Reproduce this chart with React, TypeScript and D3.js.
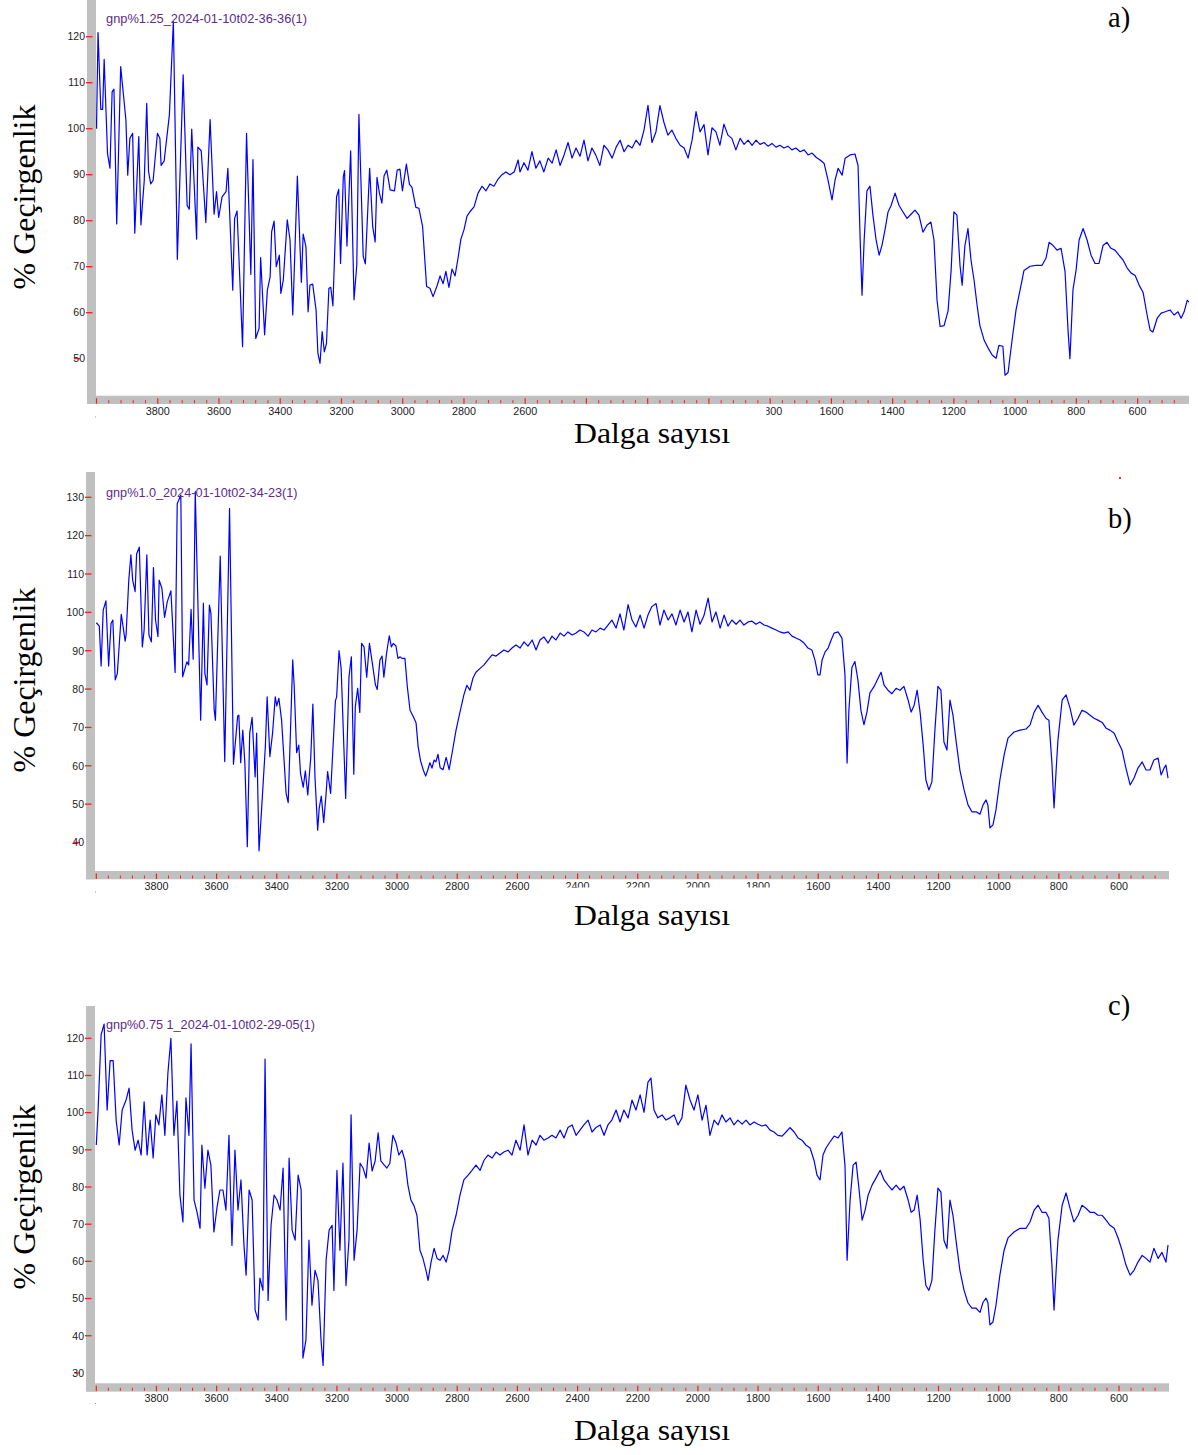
import React from "react";
import * as d3 from "d3";

// ---------- data (wavenumber cm-1, % transmittance) ----------
const aWave = [4000,3995,3986,3980,3975,3964,3956,3949,3943,3934,3921,3904,3898,3891,3882,3875,3862,3855,3844,3836,3830,3823,3815,3801,3793,3789,3779,3762,3749,3736,3717,3704,3697,3689,3673,3669,3658,3643,3629,3616,3608,3601,3590,3577,3571,3555,3549,3541,3523,3510,3496,3489,3480,3469,3464,3451,3442,3433,3428,3420,3413,3403,3398,3390,3377,3368,3359,3344,3331,3325,3316,3309,3303,3294,3283,3277,3270,3263,3256,3249,3241,3235,3228,3216,3209,3203,3194,3190,3182,3170,3159,3150,3143,3129,3122,3108,3098,3090,3084,3076,3068,3061,3052,3041,3027,3018,3009,3001,2988,2978,2970,2957,2947,2935,2922,2911,2901,2888,2878,2868,2859,2849,2839,2829,2819,2810,2800,2790,2780,2767,2754,2741,2728,2715,2702,2689,2676,2663,2650,2636,2623,2617,2604,2591,2578,2565,2552,2539,2525,2512,2499,2486,2473,2460,2447,2434,2421,2408,2395,2382,2369,2356,2343,2330,2316,2303,2290,2277,2264,2251,2238,2225,2212,2199,2186,2173,2160,2147,2134,2121,2108,2094,2081,2068,2055,2042,2029,2016,2003,1990,1977,1964,1951,1938,1925,1912,1898,1885,1872,1859,1846,1833,1820,1807,1794,1781,1768,1755,1742,1729,1716,1702,1689,1676,1663,1650,1637,1624,1611,1598,1588,1578,1565,1555,1539,1523,1513,1506,1500,1493,1484,1474,1464,1454,1444,1435,1425,1415,1405,1392,1379,1366,1353,1340,1327,1314,1301,1288,1275,1265,1255,1245,1232,1219,1209,1200,1190,1180,1173,1164,1154,1144,1134,1124,1115,1101,1088,1075,1062,1053,1040,1033,1023,1010,997,984,971,951,932,912,899,889,876,863,850,837,827,821,811,801,791,778,765,752,739,726,713,700,687,674,661,647,634,621,608,595,582,569,559,550,536,523,510,494,481,468,458,448,438,432];
const aTrans = [100,120.9,104.2,104.2,115.1,94.6,91.4,108,108.6,79.3,113.5,101.9,89.9,97.9,99,77.3,98.3,79.1,88.8,105.5,90.7,88,88.8,99,97.9,92,93,103,123.3,71.6,111.7,83.3,82.5,99.9,76,96,95.2,79.6,102,81.4,86.3,80.7,85.2,86.3,91.4,64.9,80.5,82.1,52.6,99,68.3,93.3,54.4,56.6,72,55.2,64.9,67.8,77.6,79.9,70,72.5,64.2,67.1,80.2,75.8,59.5,89.7,66.6,77.1,74.3,60.2,66,66.2,60.6,51.2,49,55.9,51.5,53.3,65.3,65.5,61.5,85.2,86.8,70.7,89.6,90.9,74.5,95.2,62.8,70.4,103.1,72.3,70.6,91.4,78.7,75.4,89.4,86,83.8,89.7,91,86.7,86.5,91,91.2,86.5,92.3,87.9,87.3,82.9,82.7,78.7,65.7,65.3,63.5,65.8,68,66.3,69,65.5,69.5,68,72,76,78,81,82,83,86,87.5,86.5,88,87.5,89,90,90.6,90,90.6,93.2,90.6,92.6,91,95,91.4,93,90.6,93.6,92.5,95.4,92,94.3,97,93.6,95.8,94,97.5,93,95.8,94.2,92,96.4,95.4,93.6,96,97.5,95,96.4,95.8,97.5,96.4,99.7,105.1,97,99.3,105,101.4,98.6,99.7,97.9,96.4,95.8,93.6,97.5,103.7,99.3,100.9,94.3,100.2,99.3,96.4,101,98.6,97.9,95.4,97.9,96.6,97.5,96.4,97.5,96.6,97,96.2,96.8,96,96.4,95.8,96.2,95.4,95.8,95,95.4,94.3,94.7,93.8,93.2,92.5,88.8,84.5,88.8,91.4,89.9,93.6,94.3,94.5,92,75.8,63.8,75.8,86.5,87.5,81,75.8,72.5,74.6,78,81.9,83.3,86,83.3,81.9,80.5,81.4,82.3,81.2,77.5,79,79.7,75.8,62.7,57,57.2,60.4,69.2,81.9,81.2,70.3,66,74.6,78.3,71.4,67,61.5,57.2,54,52.3,50.8,50.1,52.9,52.7,46.4,47,54,60.6,64.9,69.2,70.1,70.3,70.3,71.9,75.3,74.6,73.6,74,69,56,50,65,69.2,75.8,78.3,75.8,72.5,70.7,70.7,74.6,75.3,74,73.6,72.5,71.4,69.7,68.6,68.1,66,64.4,59.5,56.2,55.8,58.8,59.9,60.2,60.6,59.5,60.2,58.8,60.2,62.7,62.3];

const bWave = [4000,3993,3990,3984,3977,3968,3959,3951,3945,3937,3930,3917,3904,3901,3892,3885,3879,3871,3866,3857,3847,3841,3832,3825,3817,3810,3803,3795,3791,3782,3773,3764,3752,3738,3731,3719,3713,3699,3693,3685,3678,3671,3653,3644,3639,3632,3624,3619,3608,3604,3588,3573,3557,3544,3530,3526,3520,3513,3506,3498,3490,3482,3472,3467,3459,3448,3438,3432,3423,3414,3405,3400,3393,3384,3369,3362,3347,3342,3334,3327,3321,3312,3305,3297,3287,3280,3273,3264,3259,3252,3244,3236,3231,3221,3205,3201,3193,3186,3171,3160,3152,3144,3139,3131,3124,3118,3110,3101,3092,3083,3072,3066,3057,3050,3044,3035,3026,3019,3013,3004,2997,2990,2984,2974,2966,2957,2946,2937,2930,2922,2913,2905,2898,2891,2884,2877,2871,2864,2857,2847,2837,2827,2817,2804,2791,2778,2768,2758,2748,2738,2724,2711,2698,2684,2671,2658,2645,2631,2618,2605,2591,2578,2565,2551,2538,2525,2512,2498,2485,2472,2458,2445,2432,2418,2405,2392,2379,2365,2352,2339,2325,2312,2299,2286,2272,2259,2246,2232,2219,2206,2192,2179,2166,2153,2139,2126,2113,2099,2086,2073,2059,2046,2033,2020,2006,1993,1980,1966,1953,1940,1926,1913,1900,1887,1873,1860,1847,1833,1820,1807,1794,1780,1767,1754,1740,1727,1714,1700,1687,1674,1660,1647,1634,1621,1611,1601,1594,1587,1577,1567,1557,1547,1534,1521,1511,1504,1498,1488,1478,1468,1458,1448,1438,1428,1414,1401,1391,1381,1368,1355,1341,1328,1315,1301,1291,1281,1271,1261,1251,1242,1232,1222,1212,1202,1192,1182,1172,1162,1152,1142,1129,1115,1102,1089,1075,1062,1052,1042,1036,1029,1019,1009,996,982,969,949,929,909,896,882,869,856,843,833,823,816,809,803,789,776,763,750,736,723,710,696,683,670,656,643,630,616,603,590,577,563,550,537,523,510,497,484,470,460,450,444,437];
const bTrans = [97.3,96.7,96.4,86,100.6,103,86,97.1,98,82.4,84.1,99.5,92.5,94.1,108.4,115,108.4,105.4,115.2,117,91,95.4,115,94.1,92.3,111.7,98,93.7,108.4,106.3,98.7,102.8,105.6,84.3,128.3,130.6,83.2,87.1,86.3,100.8,87.8,131.5,71.9,102.4,84.1,81.1,101.9,99.8,74.5,71.9,114.7,61.1,127.1,60.4,73,73.2,60.8,69.3,60.6,38.9,68.5,72.6,57.1,68.5,37.8,51.9,65,78,62.4,68.5,78,75.6,77.6,71.9,52.8,50.4,87.6,80.6,63.4,65.4,58,54.4,58.7,52.4,62.2,76.1,57.1,43.2,48.9,52.1,45.2,52.8,58.5,52.8,77,77.9,90,85.4,51.5,83.2,88.4,57.8,75.4,80.2,73.9,91.9,91,83.1,91.9,87.1,81.1,79.9,87.6,88.6,83.1,89.3,93.9,91,91.9,91.3,88,88.4,88,88,80.6,74.5,72.8,71.2,65,61.3,58.9,57.3,58.9,60.8,59.4,61.5,61,63,59.5,59,62.2,59,63.4,69.3,74,78.5,81,79.7,82.8,84.4,85.4,86.3,87.6,88.9,88.6,89.4,90.2,89.7,90.7,91.5,90.7,92.3,91.2,92.8,90.2,92.8,93.6,92,93.8,92.8,94.6,93.8,94.9,94.1,94.6,95.4,94.9,93.8,95.4,94.9,95.9,95.4,96.7,98,95.9,99.6,95.4,102,98,96.2,99.3,95.9,99.3,101.5,102.3,96.7,100.6,98,99.6,96.7,100.6,97.5,100.1,94.9,100.6,96.9,99.1,103.7,97.5,100.1,95.9,99.3,96.4,98,96.9,98,96.7,97.5,97.7,96.9,97.5,96.7,96.4,95.9,95.4,94.9,94.6,94.9,93.8,93.3,92.8,92,90.7,90.2,87.6,83.7,83.7,87.6,89.7,90.7,92.8,94.6,94.9,93.3,83.7,60.7,74.5,85.6,87.2,82.4,74.5,70.7,74,79,80.7,82.8,84.4,81,79.7,78.8,80.2,79.7,80.7,77.1,74,75.8,79.7,73.8,65.4,56.3,53.7,55.8,69.3,80.7,79.7,66.2,64.1,77.1,73.2,66.7,58.9,53.7,49.8,48,48,47.4,49.8,51.1,49.8,43.8,44.6,48.5,56.3,62.8,67.2,68.8,69.3,69.6,70.6,74,75.8,74,72.4,71.9,60.7,49,58.9,66.7,77.1,78.5,75.1,70.6,72.4,74.5,74,73.2,72.4,71.9,71.3,69.8,69.3,68.5,66.2,64.1,59.4,55,56.8,59.4,61,58.9,58.9,61.5,62,57.6,59.4,60.2,56.8];

const cWave = [4000,3994,3984,3974,3964,3954,3944,3934,3924,3914,3901,3891,3881,3871,3861,3851,3841,3831,3821,3811,3802,3792,3782,3772,3762,3752,3742,3732,3722,3712,3702,3692,3685,3675,3665,3655,3649,3639,3629,3619,3609,3599,3589,3579,3569,3559,3549,3539,3529,3519,3509,3502,3492,3482,3472,3462,3456,3446,3439,3429,3419,3409,3399,3389,3379,3369,3359,3349,3339,3329,3319,3313,3303,3293,3283,3273,3263,3253,3246,3236,3226,3216,3210,3200,3190,3180,3170,3160,3153,3143,3133,3123,3113,3103,3093,3083,3073,3063,3054,3044,3034,3024,3014,3004,2994,2984,2974,2964,2954,2944,2934,2924,2914,2904,2897,2887,2877,2867,2857,2847,2837,2827,2817,2804,2791,2778,2764,2751,2738,2724,2711,2698,2684,2671,2658,2645,2631,2618,2605,2591,2578,2565,2551,2538,2525,2512,2498,2485,2472,2458,2445,2432,2418,2405,2392,2379,2365,2352,2339,2325,2312,2299,2286,2272,2259,2246,2232,2219,2206,2192,2179,2166,2156,2146,2133,2119,2106,2093,2079,2066,2053,2040,2026,2013,2000,1986,1973,1960,1946,1933,1920,1907,1893,1880,1867,1853,1840,1827,1813,1800,1787,1774,1760,1747,1734,1720,1707,1694,1680,1667,1654,1641,1627,1614,1604,1594,1584,1574,1561,1547,1534,1521,1511,1504,1494,1484,1474,1464,1454,1444,1434,1421,1408,1394,1381,1368,1355,1341,1328,1315,1301,1291,1281,1271,1261,1251,1242,1232,1222,1212,1202,1192,1182,1172,1162,1152,1142,1129,1115,1102,1089,1075,1062,1052,1042,1036,1029,1019,1009,996,982,969,949,929,909,896,882,869,856,843,833,823,816,809,803,789,776,763,750,736,723,710,696,683,670,656,643,630,616,603,590,577,563,550,537,523,510,497,484,470,457,444,437];
const cTrans = [91.3,100.7,121,123.8,100.7,114,114,98,91.3,100.7,103.4,106.6,95.3,89.9,92.6,88.6,102.9,88.6,98,87.8,99.4,96.7,104.8,93.9,110.6,120,93.9,103.1,77.8,70.6,104,93.9,118.5,76.5,73.2,68.9,91.3,79.7,89.9,85.9,67.9,74.3,79.2,79.2,73.8,93.9,64.3,89.9,73.8,81.9,64.3,56.3,79.2,76.5,46.9,44.2,55.5,52.2,114.4,49.5,69.7,77.8,76.5,73.8,85.1,44.2,87.8,68.4,65.7,83.2,79.2,34,38.9,65.7,48.2,57.6,54.9,38.9,32,60.3,68.4,69.7,52.2,84.5,63,86.4,53.5,65.7,99.4,60.3,68.4,86.4,85.1,82.4,91.8,84.3,87,94.6,87,86,85.1,86.4,93.9,92,88.6,89.9,87.2,80.5,76.5,75,72.4,63,60.8,57.6,54.9,59.8,63.5,60.8,60.3,61.6,59.8,63,68.4,72.4,77.8,81.9,83.2,84.5,85.9,84.5,87.2,88.6,87.8,89.4,88.6,89.4,89.9,88.6,92.6,89.9,96.7,88.6,92.6,91.3,93.9,92.6,93.2,93.9,93.2,95.3,93.2,96,96.7,93.9,95.3,96.7,98,94.8,96,96.7,93.9,96.7,98,100.7,97.5,100.7,98.6,103.4,100.7,104.8,100.1,108.2,109.3,100.7,98.6,99.4,98,98.6,99.4,96.7,98.6,107.4,103.4,100.7,104.8,98,102,93.9,98,96.7,99.4,97.5,98.6,96.7,98,96.9,98,96.7,97.5,96.9,96.4,96.7,95.3,94.8,93.9,93.7,94.8,96,94.8,93.2,92.6,91.3,90.5,87.2,83.2,81.9,88.6,90.5,92.1,93.7,93.2,94.8,85.9,60.3,76.5,85.9,86.7,79.2,71.1,73.8,77.8,80.5,82.4,84.5,81.9,80.5,79.2,80.5,79.2,80.2,76.5,73.2,73.8,77.8,71.1,60.3,53.5,52.2,54.9,68.4,79.7,78.6,65.7,63.5,76.5,72.4,65.7,57.6,52.2,48.8,47.4,47.4,46.3,49,50.1,49,42.9,43.7,48.2,56.3,63,66.3,67.9,68.9,68.9,70.6,73.8,75.1,73.2,73.2,71.6,59,46.9,57.6,65.7,75.1,78.4,74.3,70.6,72.4,75.1,74.3,73.2,73.2,72.4,72.4,71.1,69.7,68.9,66.3,63,59,56.3,57.6,59.8,61.6,60.8,59.8,63.5,60.8,62.4,59.8,64.4];

const yTicksA = [50, 60, 70, 80, 90, 100, 110, 120];
const yTicksB = [40, 50, 60, 70, 80, 90, 100, 110, 120, 130];
const yTicksC = [30, 40, 50, 60, 70, 80, 90, 100, 110, 120];
const xTickLabels = [3800, 3600, 3400, 3200, 3000, 2800, 2600, 2400, 2200, 2000, 1800, 1600, 1400, 1200, 1000, 800, 600];
const titles = ["gnp%1.25_2024-01-10t02-36-36(1)", "gnp%1.0_2024-01-10t02-34-23(1)", "gnp%0.75 1_2024-01-10t02-29-05(1)"];
const letters = ["a)", "b)", "c)"];
const yTitle = "% Geçirgenlik";
const xTitle = "Dalga sayısı";

// ---------- layout ----------
type Panel = {
  wave: number[]; trans: number[]; yTicks: number[]; title: string; letter: string;
  xr: [number, number]; yd: [number, number]; yr: [number, number];
  barL: number; barTop: number; bottomTop: number; barRight: number;
  labelBase: number; titleY: number; titleW: number; letterY: number; xTitleY: number; yTitleY: number;
  mask?: [number, number, number, number];
};

const panels: Panel[] = [
  { wave: aWave, trans: aTrans, yTicks: yTicksA, title: titles[0], letter: letters[0],
    xr: [96.5, 1137.6], yd: [50, 120], yr: [358.7, 36.7],
    barL: 87, barTop: 0, bottomTop: 395.7, barRight: 1189,
    labelBase: 415, titleY: 22.5, titleW: 201, letterY: 27, xTitleY: 443, yTitleY: 197,
    mask: [540, 405, 226.5, 14] },
  { wave: bWave, trans: bTrans, yTicks: yTicksB, title: titles[1], letter: letters[1],
    xr: [96.3, 1119], yd: [40, 130], yr: [842.5, 497.3],
    barL: 86, barTop: 472, bottomTop: 871, barRight: 1169,
    labelBase: 890, titleY: 496.5, titleW: 191.5, letterY: 528, xTitleY: 925, yTitleY: 680,
    mask: [540, 887.5, 250, 8] },
  { wave: cWave, trans: cTrans, yTicks: yTicksC, title: titles[2], letter: letters[2],
    xr: [96.3, 1119], yd: [30, 120], yr: [1372.9, 1038.3],
    barL: 86, barTop: 1006, bottomTop: 1383.3, barRight: 1169,
    labelBase: 1401.5, titleY: 1029, titleW: 209, letterY: 1015, xTitleY: 1440, yTitleY: 1197 },
];

const minorTicks = d3.range(4000, 479, -40);

function PanelView({ p, i }: { p: Panel; i: number }) {
  const x = d3.scaleLinear().domain([4000, 600]).range(p.xr);
  const y = d3.scaleLinear().domain(p.yd).range(p.yr);
  const pts = p.wave.map((w, k) => [w, p.trans[k]] as [number, number]);
  const line = d3.line<[number, number]>().x(d => x(d[0])).y(d => y(d[1]));
  const clipId = `clip${i}`;
  const barW = 9;
  const lowest = p.yTicks[0];
  return (
    <g>
      <defs>
        <clipPath id={clipId}>
          <rect x={p.barL + barW} y={p.barTop} width={p.barRight - p.barL - barW} height={p.bottomTop - p.barTop} />
        </clipPath>
      </defs>
      {/* gray frame */}
      <rect x={p.barL} y={p.barTop} width={barW} height={p.bottomTop + 8.3 - p.barTop} fill="#c0c0c0" />
      <rect x={p.barL} y={p.bottomTop} width={p.barRight - p.barL} height={8.3} fill="#c0c0c0" />
      {/* x ticks on bar */}
      {minorTicks.map(w => {
        const major = w % 200 === 0;
        return (
          <line key={w} x1={x(w)} x2={x(w)} y1={p.bottomTop + (major ? 2.5 : 4.5)} y2={p.bottomTop + (major ? 8 : 7.5)}
            stroke="#ff1a1a" strokeWidth={major ? 1.2 : 1} />
        );
      })}
      {/* x labels */}
      {xTickLabels.map(w => (
        <text key={w} x={x(w)} y={p.labelBase} textAnchor="middle" fontFamily="Liberation Sans, Arial, sans-serif"
          fontSize={10.8} fill="#222">{w}</text>
      ))}
      {p.mask && <rect x={p.mask[0]} y={p.mask[1]} width={p.mask[2]} height={p.mask[3]} fill="#fff" />}
      <rect x={95} y={p.labelBase + 1.5} width={1} height={1} fill="#999" />
      {/* y ticks */}
      {p.yTicks.map(v => (
        <g key={v}>
          {v === lowest ? (
            <line x1={74} x2={80} y1={y(v)} y2={y(v)} stroke="#ff1a1a" strokeWidth={1.2} />
          ) : (
            <line x1={p.barL - 1} x2={p.barL + 5.5} y1={y(v)} y2={y(v)} stroke="#ff1a1a" strokeWidth={1.3} />
          )}
          <text x={p.barL - 2} y={y(v)} dy="0.36em" textAnchor="end" fontFamily="Liberation Sans, Arial, sans-serif"
            fontSize={10.5} fill="#222">{v}</text>
        </g>
      ))}
      {/* spectrum */}
      <path d={line(pts) || ""} fill="none" stroke="#0000ff" strokeWidth={1.2} strokeLinejoin="round" clipPath={`url(#${clipId})`} />
      {/* title inside plot */}
      <text x={106} y={p.titleY} fontFamily="Liberation Sans, Arial, sans-serif" fontSize={12.2} fill="#5b2c8a"
        textLength={p.titleW} lengthAdjust="spacingAndGlyphs">{p.title}</text>
      {/* panel letter */}
      <text x={1108} y={p.letterY} fontFamily="Liberation Serif, Times New Roman, serif" fontSize={28.5} fill="#000">{p.letter}</text>
      {/* axis titles */}
      <text x={574} y={p.xTitleY} fontFamily="Liberation Serif, Times New Roman, serif" fontSize={30} fill="#000"
        textLength={156} lengthAdjust="spacingAndGlyphs">{xTitle}</text>
      <text transform={`translate(35,${p.yTitleY + 92.5}) rotate(-90)`} fontFamily="Liberation Serif, Times New Roman, serif"
        fontSize={31} fill="#000" textLength={185} lengthAdjust="spacingAndGlyphs">{yTitle}</text>
    </g>
  );
}

export default function App() {
  return (
    <svg width={1198} height={1455} viewBox="0 0 1198 1455" style={{ position: "absolute", left: 0, top: 0, background: "#fff" }}>
      <rect x={0} y={0} width={1198} height={1455} fill="#fff" />
      {panels.map((p, i) => <PanelView key={i} p={p} i={i} />)}
      <rect x={1119} y={477} width={2} height={2} fill="#e03030" />
    </svg>
  );
}
